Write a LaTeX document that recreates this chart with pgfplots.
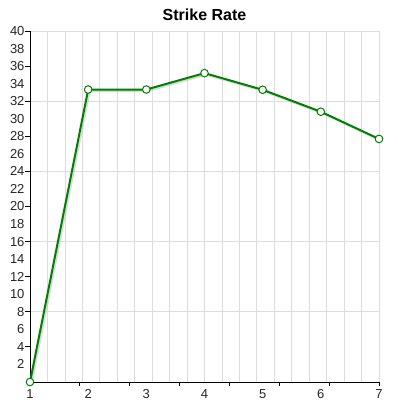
\documentclass[border=0pt]{standalone}
\usepackage{pgfplots}
\pgfplotsset{compat=1.18}
\usepackage{fontspec}
\setmainfont{Liberation Sans}
\definecolor{linegreen}{RGB}{0,128,0}
\definecolor{gridgray}{RGB}{221,221,221}
\begin{document}
\begin{tikzpicture}
\path[use as bounding box] (-30pt,-27pt) rectangle (367pt,382pt);
\begin{axis}[
  scale only axis,
  width=349pt, height=351pt,
  xmin=1, xmax=7, ymin=0, ymax=40,
  axis x line*=bottom, axis y line*=left,
  axis line style={black, line width=0.9pt},
  /pgf/number format/assume math mode=true,
  tick label style={font=\fontsize{13}{13}\selectfont, text=black!85},
  xtick={1,2,3,4,5,6,7},
  ytick={2,4,...,40},
  major tick length=0pt,
  minor tick length=0pt,
  minor xtick={1.3,1.6,...,7.01},
  minor ytick={8,16,24,32,40},
  minor grid style={gridgray, line width=0.8pt},
  xminorgrids, yminorgrids,
  extra x ticks={1.857,2.714,3.571,4.429,5.286,6.143,7},
  extra x tick labels={},
  extra x tick style={major tick length=4pt, tick align=outside, xminorgrids=false, major tick style={black, line width=0.8pt}},
  extra y ticks={4,8,...,40},
  extra y tick labels={},
  extra y tick style={major tick length=5pt, tick align=outside, yminorgrids=false, major tick style={black, line width=0.8pt}},
  xticklabel style={yshift=-4pt},
  yticklabel style={xshift=-2pt},
  clip=false,
]
\addplot[black!25, line width=2pt, opacity=0.6, xshift=1.5pt, yshift=-1.5pt, forget plot] coordinates {
(1,0) (2,33.33) (3,33.33) (4,35.2) (5,33.3) (6,30.8) (7,27.7)};
\addplot[linegreen, line width=2pt, mark=*, mark size=3.8pt,
  mark options={fill=white, draw=linegreen, line width=1pt}] coordinates {
(1,0) (2,33.33) (3,33.33) (4,35.2) (5,33.3) (6,30.8) (7,27.7)};
\end{axis}
\node[font=\bfseries\fontsize{16}{16}\selectfont] at (174.5pt,367pt) {Strike Rate};
\end{tikzpicture}
\end{document}
